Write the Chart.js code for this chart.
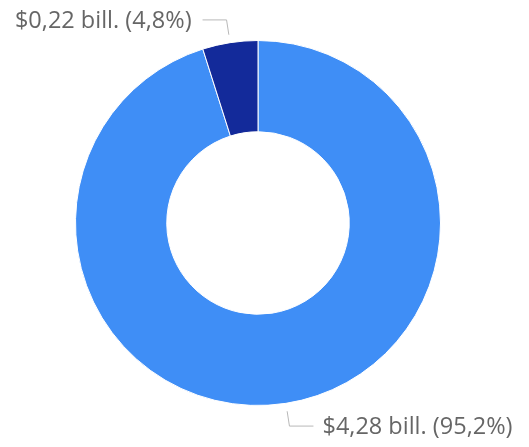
<!DOCTYPE html>
<html>
<head>
<meta charset="utf-8">
<script src="https://cdn.jsdelivr.net/npm/chart.js@4/dist/chart.umd.min.js"></script>
<style>
  html, body { margin: 0; padding: 0; background: #fff; }
  #wrap { width: 529px; height: 447px; position: relative; }
</style>
</head>
<body>
<div id="wrap"><canvas id="donut"></canvas></div>
<script>
// values in billions of dollars
const categories = ['Large', 'Small'];
const amounts = [4.28, 0.22];
const percents = ['95,2%', '4,8%'];
const sliceColors = ['#3f8ef6', '#132a9a'];

const fmtAmount = v => '$' + v.toFixed(2).replace('.', ',') + ' bill.';

// draws leader lines and labels outside the ring
const outsideLabels = {
    id: 'outsideLabels',
    afterDatasetsDraw(chart) {
        const ctx = chart.ctx;
        const meta = chart.getDatasetMeta(0);
        ctx.save();
        ctx.font = '23.5px "Segoe UI", "Open Sans", sans-serif';
        ctx.textBaseline = 'middle';
        meta.data.forEach((arc, i) => {
            const p = arc.getProps(['x', 'y', 'startAngle', 'endAngle', 'outerRadius']);
            const mid = (p.startAngle + p.endAngle) / 2;
            const cos = Math.cos(mid), sin = Math.sin(mid);
            const x1 = p.x + cos * (p.outerRadius + 8);
            const y1 = p.y + sin * (p.outerRadius + 8);
            const x2 = p.x + cos * (p.outerRadius + 23);
            const y2 = p.y + sin * (p.outerRadius + 23);
            const right = cos >= 0;
            const x3 = x2 + (right ? 24 : -24);

            ctx.strokeStyle = '#b8b8b8';
            ctx.lineWidth = 1;
            ctx.beginPath();
            ctx.moveTo(x1, y1);
            ctx.lineTo(x2, y2);
            ctx.lineTo(x3, y2);
            ctx.stroke();

            ctx.fillStyle = '#666666';
            ctx.textAlign = right ? 'left' : 'right';
            const text = fmtAmount(amounts[i]) + ' (' + percents[i] + ')';
            ctx.fillText(text, x3 + (right ? 9 : -11), y2 + 1);
        });
        ctx.restore();
    }
};

new Chart(document.getElementById('donut').getContext('2d'), {
    type: 'doughnut',
    data: {
        labels: categories,
        datasets: [{
            data: amounts,
            backgroundColor: sliceColors,
            borderColor: '#ffffff',
            borderWidth: 1
        }]
    },
    options: {
        responsive: true,
        maintainAspectRatio: false,
        animation: false,
        cutout: '50%',
        layout: { padding: { left: 75, right: 88, top: 40, bottom: 41 } },
        plugins: {
            legend: { display: false },
            tooltip: { enabled: false }
        }
    },
    plugins: [outsideLabels]
});
</script>
</body>
</html>
